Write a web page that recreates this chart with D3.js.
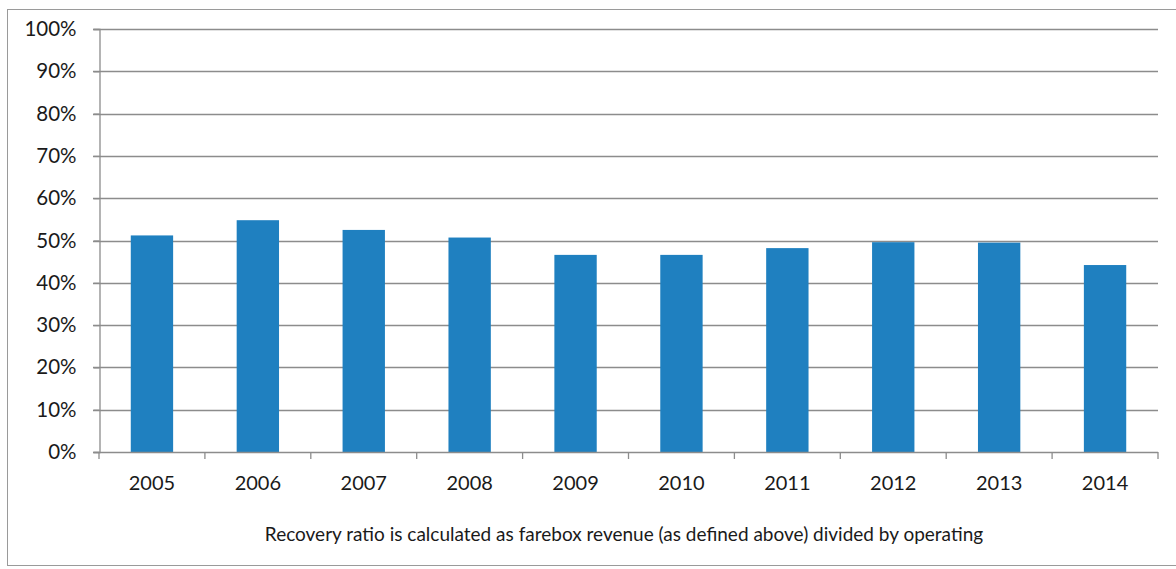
<!DOCTYPE html>
<html>
<head>
<meta charset="utf-8">
<script src="https://cdn.jsdelivr.net/npm/d3@7"></script>
<style>
  html, body { margin: 0; padding: 0; background: #fff; }
  svg { display: block; }
  text { font-family: Lato, "Open Sans", sans-serif; fill: #1a1a1a; }
</style>
</head>
<body>
<svg id="chart" width="1176" height="569"></svg>
<script>
// Farebox recovery ratio by year
const years = ["2005", "2006", "2007", "2008", "2009", "2010", "2011", "2012", "2013", "2014"];
const recoveryRatio = [0.512, 0.548, 0.525, 0.507, 0.466, 0.466, 0.482, 0.496, 0.495, 0.442];
const yTicks = [0, 0.1, 0.2, 0.3, 0.4, 0.5, 0.6, 0.7, 0.8, 0.9, 1.0];
const footnote = "Recovery ratio is calculated as farebox revenue (as defined above) divided by operating";

const svg = d3.select("#chart");
const plot = { left: 99, right: 1158, top: 29, bottom: 452 };

// Outer chart frame
svg.append("rect")
  .attr("x", 7.5).attr("y", 9.5)
  .attr("width", 1180).attr("height", 556)
  .attr("fill", "none")
  .attr("stroke", "#9a9a9a")
  .attr("stroke-width", 1);

const x = d3.scaleBand()
  .domain(years)
  .range([plot.left, plot.right])
  .paddingInner(0.6)
  .paddingOuter(0.3);

const y = d3.scaleLinear()
  .domain([0, 1])
  .range([plot.bottom, plot.top]);

// Horizontal gridlines
svg.append("g")
  .selectAll("line")
  .data(yTicks.slice(1))
  .join("line")
  .attr("x1", plot.left - 6)
  .attr("x2", plot.right)
  .attr("y1", d => Math.round(y(d)) + 0.5)
  .attr("y2", d => Math.round(y(d)) + 0.5)
  .attr("stroke", "#8c8c8c")
  .attr("stroke-width", 1.3);

// Bars
svg.append("g")
  .selectAll("rect")
  .data(years.map((yr, i) => ({ yr, v: recoveryRatio[i] })))
  .join("rect")
  .attr("x", d => x(d.yr))
  .attr("y", d => y(d.v))
  .attr("width", x.bandwidth())
  .attr("height", d => y(0) - y(d.v))
  .attr("fill", "#1f80c0");

// Y axis
const yAxis = d3.axisLeft(y)
  .tickValues(yTicks)
  .tickFormat(d3.format(".0%"))
  .tickSize(6)
  .tickPadding(17);

const gy = svg.append("g")
  .attr("transform", `translate(${plot.left + 0.5},0)`)
  .call(yAxis);
gy.select(".domain").attr("stroke", "#8c8c8c").attr("stroke-width", 1.3);
gy.selectAll(".tick line").attr("stroke", "#8c8c8c").attr("stroke-width", 1.3);
gy.selectAll(".tick text")
  .attr("font-size", 20.5)
  .attr("font-family", "Lato, 'Open Sans', sans-serif")
  .attr("fill", "#1a1a1a");

// X axis: baseline with ticks between categories
const boundaries = d3.range(years.length + 1).map(i => plot.left + i * (plot.right - plot.left) / years.length);
const gx = svg.append("g");
gx.append("line")
  .attr("x1", plot.left - 6).attr("x2", plot.right)
  .attr("y1", Math.round(y(0)) + 0.5).attr("y2", Math.round(y(0)) + 0.5)
  .attr("stroke", "#8c8c8c").attr("stroke-width", 1.3);
gx.selectAll("line.tk")
  .data(boundaries)
  .join("line")
  .attr("class", "tk")
  .attr("x1", d => d).attr("x2", d => d)
  .attr("y1", Math.round(y(0))).attr("y2", Math.round(y(0)) + 7)
  .attr("stroke", "#8c8c8c").attr("stroke-width", 1.3);
gx.selectAll("text")
  .data(years)
  .join("text")
  .attr("x", d => x(d) + x.bandwidth() / 2)
  .attr("y", 490)
  .attr("text-anchor", "middle")
  .attr("font-size", 20)
  .text(d => d);

// Footnote
svg.append("text")
  .attr("x", 624)
  .attr("y", 541)
  .attr("text-anchor", "middle")
  .attr("font-size", 19)
  .text(footnote);
</script>
</body>
</html>
